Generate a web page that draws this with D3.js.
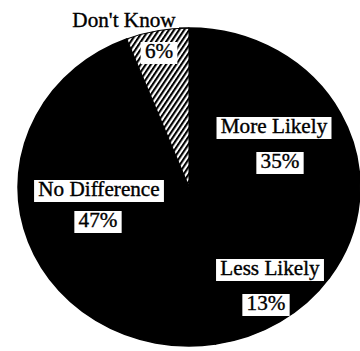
<!DOCTYPE html>
<html>
<head>
<meta charset="utf-8">
<script src="https://cdn.jsdelivr.net/npm/d3@7"></script>
<style>
  html, body { margin: 0; padding: 0; background: #fff; }
  svg { display: block; }
</style>
</head>
<body>
<svg id="chart" width="360" height="351"></svg>
<script>
// Survey answers, in drawing order (clockwise, first wedge ends at 12 o'clock)
const categories = ["Don't Know", "More Likely", "Less Likely", "No Difference"];
const shares = [6, 35, 13, 47];
const shareLabels = ["6%", "35%", "13%", "47%"];

const width = 360, height = 351;
const cx = 189, cy = 187, radius = 159, stretchX = 1.075;
const fontFamily = "Liberation Serif";
const fontSize = 20, textStretch = 1.06;

// Label anchors: centre x and baseline y for the name and the percentage
const labelLayout = {
  "Don't Know":    { name: [124, 27],  value: [159, 58],  nameBox: false },
  "More Likely":   { name: [274, 133], value: [280, 168], nameBox: true },
  "Less Likely":   { name: [270, 275], value: [266, 310], nameBox: true },
  "No Difference": { name: [99, 196],  value: [98, 227],  nameBox: true }
};

const svg = d3.select("#chart");

// Diagonal hatching for the "Don't Know" wedge
const defs = svg.append("defs");
const hatch = defs.append("pattern")
  .attr("id", "hatch")
  .attr("patternUnits", "userSpaceOnUse")
  .attr("width", 4).attr("height", 4)
  .attr("patternTransform", "rotate(32)");
hatch.append("rect").attr("width", 4).attr("height", 4).attr("fill", "#fff");
hatch.append("line")
  .attr("x1", 1).attr("y1", -1).attr("x2", 1).attr("y2", 5)
  .attr("stroke", "#000").attr("stroke-width", 2);

const data = categories.map((c, i) => ({ category: c, value: shares[i], label: shareLabels[i] }));
const total = d3.sum(shares);
const start = -2 * Math.PI * shares[0] / total;

const pie = d3.pie()
  .sort(null)
  .value(d => d.value)
  .startAngle(start)
  .endAngle(start + 2 * Math.PI);

const arc = d3.arc().innerRadius(0).outerRadius(radius);

const g = svg.append("g")
  .attr("transform", `translate(${cx},${cy}) scale(${stretchX},1)`);

const arcs = pie(data);
const isHatched = d => d.data.category === "Don't Know";

// Solid wedges first, with a matching stroke so no seams show between them
g.selectAll("path.solid")
  .data(arcs.filter(d => !isHatched(d)))
  .join("path")
  .attr("class", "solid")
  .attr("d", arc)
  .attr("fill", "#000")
  .attr("stroke", "#000")
  .attr("stroke-width", 1.5)
  .attr("stroke-linejoin", "round");

g.selectAll("path.hatched")
  .data(arcs.filter(isHatched))
  .join("path")
  .attr("class", "hatched")
  .attr("d", arc)
  .attr("fill", "url(#hatch)")
  .attr("stroke", "#000")
  .attr("stroke-width", 1);

// Short leader from the "Don't Know" caption to the rim
const topY = cy - radius;
svg.append("line")
  .attr("x1", 179).attr("y1", topY).attr("x2", cx).attr("y2", topY)
  .attr("stroke", "#000").attr("stroke-width", 1.2);

// Text labels on white boxes
function addLabel(str, pos, boxed) {
  const lg = svg.append("g")
    .attr("transform", `translate(${pos[0]},${pos[1]}) scale(${textStretch},1)`);
  const rect = lg.append("rect").attr("fill", "#fff");
  const t = lg.append("text")
    .attr("text-anchor", "middle")
    .style("font-family", fontFamily)
    .style("font-size", fontSize + "px")
    .style("fill", "#000")
    .style("stroke", "#000")
    .style("stroke-width", "0.35px")
    .text(str);
  if (boxed) {
    const w = t.node().getComputedTextLength();
    rect.attr("x", -w / 2 - 4).attr("y", -16)
      .attr("width", w + 8).attr("height", 22);
  } else {
    rect.remove();
  }
}

data.forEach(d => {
  const L = labelLayout[d.category];
  addLabel(d.category, L.name, L.nameBox);
  addLabel(d.label, L.value, true);
});
</script>
</body>
</html>
